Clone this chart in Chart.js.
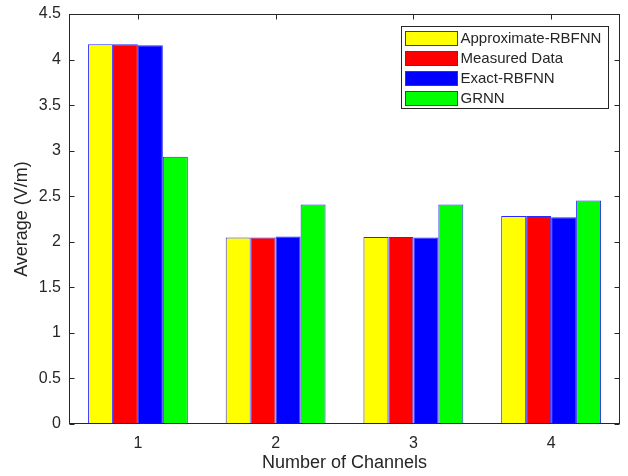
<!DOCTYPE html>
<html>
<head>
<meta charset="utf-8">
<script src="https://cdn.jsdelivr.net/npm/chart.js@4/dist/chart.umd.min.js"></script>
<style>
  html, body { margin: 0; padding: 0; background: #fff; }
  #wrap { width: 628px; height: 476px; }
</style>
</head>
<body>
<div id="wrap"><canvas id="chart" width="628" height="476"></canvas></div>
<script>
"use strict";

const CHANNELS = ["1", "2", "3", "4"];
const APPROX_RBFNN = [4.167, 2.046, 2.053, 2.284];
const MEASURED = [4.167, 2.046, 2.053, 2.284];
const EXACT_RBFNN = [4.156, 2.057, 2.046, 2.270];
const GRNN = [2.932, 2.410, 2.410, 2.453];
const Y_TICKS = [0, 0.5, 1, 1.5, 2, 2.5, 3, 3.5, 4, 4.5];

const FONT = "'Liberation Sans', Arial, sans-serif";
const AXIS_COLOR = "#262626";
const EDGE = "#2a2aff";

function series(label, data, color) {
  return {
    label, data, backgroundColor: color, borderColor: EDGE,
    borderWidth: 1, borderSkipped: false,
    categoryPercentage: 0.725, barPercentage: 1.0,
  };
}

function edges(a) {
  return {
    L: Math.round(a.left) + 0.5, R: Math.round(a.right) - 0.5,
    T: Math.round(a.top) + 0.5, B: Math.round(a.bottom) - 0.5,
  };
}

// inward ticks under the bars (MATLAB layer = bottom), axes box on top.
// bottom x ticks sit under the bar groups, so only the top ones show
const boxPlugin = {
  id: "box",
  beforeDatasetsDraw(chart) {
    const { ctx, chartArea, scales } = chart;
    const { L, R, T } = edges(chartArea);
    ctx.save();
    ctx.strokeStyle = AXIS_COLOR;
    ctx.lineWidth = 1;
    ctx.beginPath();
    for (const v of Y_TICKS) {
      const y = Math.round(scales.y.getPixelForValue(v)) + 0.5;
      ctx.moveTo(L, y); ctx.lineTo(L + 5, y);
      ctx.moveTo(R, y); ctx.lineTo(R - 5, y);
    }
    CHANNELS.forEach((c, i) => {
      const x = Math.round(scales.x.getPixelForTick(i)) + 0.5;
      ctx.moveTo(x, T); ctx.lineTo(x, T + 5);
    });
    ctx.stroke();
    ctx.restore();
  },
  afterDatasetsDraw(chart) {
    const { ctx, chartArea } = chart;
    const { L, R, T, B } = edges(chartArea);
    ctx.save();
    ctx.strokeStyle = AXIS_COLOR;
    ctx.lineWidth = 1;
    ctx.strokeRect(L, T, R - L, B - T);
    ctx.restore();
  },
};

// legend box inside the top-right corner of the axes
const legendPlugin = {
  id: "innerLegend",
  afterDraw(chart) {
    const { ctx, chartArea: a } = chart;
    const sets = chart.data.datasets;
    const w = 207, rowH = 20, h = 82;
    const x0 = Math.round(a.right) - 12 - w + 0.5, y0 = Math.round(a.top) + 12 + 0.5;
    ctx.save();
    ctx.fillStyle = "#fff";
    ctx.fillRect(x0, y0, w, h);
    ctx.strokeStyle = AXIS_COLOR;
    ctx.lineWidth = 1;
    ctx.strokeRect(x0, y0, w, h);
    ctx.font = "15px " + FONT;
    ctx.textBaseline = "middle";
    sets.forEach((ds, i) => {
      const cy = y0 + 12 + i * rowH;
      ctx.fillStyle = ds.backgroundColor;
      ctx.fillRect(x0 + 4, cy - 7, 52, 14);
      ctx.strokeStyle = EDGE;
      ctx.strokeRect(x0 + 4, cy - 7, 52, 14);
      ctx.fillStyle = AXIS_COLOR;
      ctx.fillText(ds.label, x0 + 59, cy + 0.5);
    });
    ctx.restore();
  },
};

new Chart(document.getElementById("chart"), {
  type: "bar",
  data: {
    labels: CHANNELS,
    datasets: [
      series("Approximate-RBFNN", APPROX_RBFNN, "#ffff00"),
      series("Measured Data", MEASURED, "#ff0000"),
      series("Exact-RBFNN", EXACT_RBFNN, "#0000ff"),
      series("GRNN", GRNN, "#00ff00"),
    ],
  },
  options: {
    responsive: false, animation: false,
    layout: { padding: { top: 14, right: 8, left: 0, bottom: 0 } },
    plugins: { legend: { display: false }, tooltip: { enabled: false } },
    scales: {
      x: {
        grid: { display: false }, border: { display: false },
        ticks: { color: AXIS_COLOR, font: { family: FONT, size: 16 }, padding: 2 },
        title: { display: true, text: "Number of Channels", color: AXIS_COLOR,
                 font: { family: FONT, size: 18 }, padding: { top: 0, bottom: 2 } },
        afterFit(s) { s.height = 52; s.paddingLeft = 0; s.paddingRight = 0; },
      },
      y: {
        min: 0, max: 4.5,
        grid: { display: false }, border: { display: false },
        afterBuildTicks(s) { s.ticks = Y_TICKS.map(v => ({ value: v })); },
        ticks: { color: AXIS_COLOR, font: { family: FONT, size: 16 }, padding: 0,
                 callback: v => String(v) },
        title: { display: true, text: "Average (V/m)", color: AXIS_COLOR,
                 font: { family: FONT, size: 18 }, padding: { top: 11, bottom: 0 } },
        afterFit(s) { s.width = 69; s.paddingTop = 0; s.paddingBottom = 0; },
      },
    },
  },
  plugins: [boxPlugin, legendPlugin],
});
</script>
</body>
</html>
